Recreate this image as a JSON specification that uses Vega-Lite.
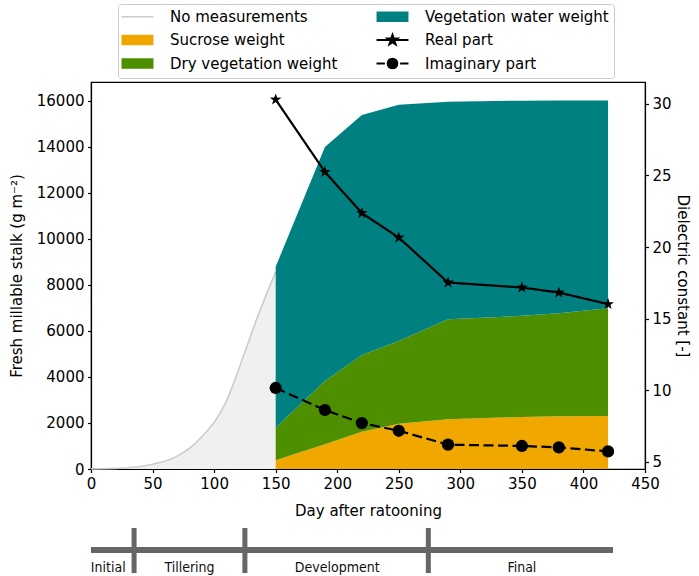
{
  "$schema": "https://vega.github.io/schema/vega-lite/v6.json",
  "padding": {"left": 8, "top": 3, "right": 5, "bottom": 3},
  "datasets": {
    "nomeas": [
      {"day": 0, "weight": 0, "series": "No measurements"},
      {"day": 10, "weight": 8, "series": "No measurements"},
      {"day": 20, "weight": 25, "series": "No measurements"},
      {"day": 30, "weight": 55, "series": "No measurements"},
      {"day": 40, "weight": 110, "series": "No measurements"},
      {"day": 50, "weight": 205, "series": "No measurements"},
      {"day": 60, "weight": 340, "series": "No measurements"},
      {"day": 65, "weight": 430, "series": "No measurements"},
      {"day": 70, "weight": 560, "series": "No measurements"},
      {"day": 75, "weight": 720, "series": "No measurements"},
      {"day": 80, "weight": 900, "series": "No measurements"},
      {"day": 85, "weight": 1130, "series": "No measurements"},
      {"day": 90, "weight": 1400, "series": "No measurements"},
      {"day": 95, "weight": 1690, "series": "No measurements"},
      {"day": 100, "weight": 2015, "series": "No measurements"},
      {"day": 105, "weight": 2450, "series": "No measurements"},
      {"day": 110, "weight": 2950, "series": "No measurements"},
      {"day": 115, "weight": 3600, "series": "No measurements"},
      {"day": 120, "weight": 4330, "series": "No measurements"},
      {"day": 125, "weight": 5080, "series": "No measurements"},
      {"day": 130, "weight": 5830, "series": "No measurements"},
      {"day": 135, "weight": 6580, "series": "No measurements"},
      {"day": 140, "weight": 7250, "series": "No measurements"},
      {"day": 145, "weight": 7920, "series": "No measurements"},
      {"day": 150, "weight": 8550, "series": "No measurements"}
    ],
    "weights": [
      {"day": 150, "series": "Sucrose weight", "weight": 378},
      {"day": 150, "series": "Dry vegetation weight", "weight": 1418},
      {"day": 150, "series": "Vegetation water weight", "weight": 6987},
      {"day": 190, "series": "Sucrose weight", "weight": 1073},
      {"day": 190, "series": "Dry vegetation weight", "weight": 2753},
      {"day": 190, "series": "Vegetation water weight", "weight": 10164},
      {"day": 220, "series": "Sucrose weight", "weight": 1623},
      {"day": 220, "series": "Dry vegetation weight", "weight": 3334},
      {"day": 220, "series": "Vegetation water weight", "weight": 10421},
      {"day": 250, "series": "Sucrose weight", "weight": 1970},
      {"day": 250, "series": "Dry vegetation weight", "weight": 3595},
      {"day": 250, "series": "Vegetation water weight", "weight": 10261},
      {"day": 290, "series": "Sucrose weight", "weight": 2160},
      {"day": 290, "series": "Dry vegetation weight", "weight": 4347},
      {"day": 290, "series": "Vegetation water weight", "weight": 9443},
      {"day": 350, "series": "Sucrose weight", "weight": 2260},
      {"day": 350, "series": "Dry vegetation weight", "weight": 4392},
      {"day": 350, "series": "Vegetation water weight", "weight": 9348},
      {"day": 380, "series": "Sucrose weight", "weight": 2290},
      {"day": 380, "series": "Dry vegetation weight", "weight": 4480},
      {"day": 380, "series": "Vegetation water weight", "weight": 9240},
      {"day": 420, "series": "Sucrose weight", "weight": 2304},
      {"day": 420, "series": "Dry vegetation weight", "weight": 4683},
      {"day": 420, "series": "Vegetation water weight", "weight": 9023}
    ],
    "dielectric": [
      {"day": 150, "series": "Real part", "value": 30.3},
      {"day": 190, "series": "Real part", "value": 25.25},
      {"day": 220, "series": "Real part", "value": 22.37},
      {"day": 250, "series": "Real part", "value": 20.66},
      {"day": 290, "series": "Real part", "value": 17.52},
      {"day": 350, "series": "Real part", "value": 17.17},
      {"day": 380, "series": "Real part", "value": 16.82},
      {"day": 420, "series": "Real part", "value": 16.01},
      {"day": 150, "series": "Imaginary part", "value": 10.15},
      {"day": 190, "series": "Imaginary part", "value": 8.61},
      {"day": 220, "series": "Imaginary part", "value": 7.7},
      {"day": 250, "series": "Imaginary part", "value": 7.16},
      {"day": 290, "series": "Imaginary part", "value": 6.19},
      {"day": 350, "series": "Imaginary part", "value": 6.1},
      {"day": 380, "series": "Imaginary part", "value": 6.0},
      {"day": 420, "series": "Imaginary part", "value": 5.72}
    ],
    "phase_bar": [{"start": 0, "end": 424}],
    "phase_bounds": [{"day": 35}, {"day": 125}, {"day": 274}],
    "phases": [
      {"stage": "Initial", "day": 14},
      {"stage": "Tillering", "day": 80},
      {"stage": "Development", "day": 200},
      {"stage": "Final", "day": 350}
    ]
  },
  "bounds": "flush",
  "spacing": 59,
  "vconcat": [
    {
      "width": 554,
      "height": 387,
      "layer": [
        {
          "layer": [
            {
              "data": {"name": "nomeas"},
              "mark": {"type": "area", "color": "#f0f0f0", "opacity": 1},
              "encoding": {
                "x": {"field": "day", "type": "quantitative", "scale": {"domain": [0, 450], "nice": false},
                      "axis": {"values": [0, 50, 100, 150, 200, 250, 300, 350, 400, 450], "title": "Day after ratooning", "titlePadding": 12, "labelFlush": false, "labelOverlap": false}},
                "y": {"field": "weight", "type": "quantitative", "stack": null, "scale": {"domain": [0, 16810], "nice": false},
                      "axis": {"values": [0, 2000, 4000, 6000, 8000, 10000, 12000, 14000, 16000], "format": "d", "title": "Fresh millable stalk (g m⁻²)", "titlePadding": 12, "labelFlush": false, "labelOverlap": false}}
              }
            },
            {
              "data": {"name": "nomeas"},
              "mark": {"type": "line", "strokeWidth": 1.6},
              "encoding": {
                "x": {"field": "day", "type": "quantitative"},
                "y": {"field": "weight", "type": "quantitative"},
                "color": {
                  "field": "series", "type": "nominal",
                  "scale": {
                    "domain": ["No measurements", "Sucrose weight", "Dry vegetation weight", "Vegetation water weight", "Real part", "Imaginary part"],
                    "range": ["#cccccc", "#f0a800", "#4e8f00", "#008080", "#000000", "#000000"]
                  },
                  "legend": {
                    "title": null,
                    "orient": "none",
                    "legendX": 27,
                    "legendY": -78,
                    "columns": 2,
                    "encode": {
                      "symbols": {
                        "update": {
                          "shape": {"signal": "datum.value == 'No measurements' ? 'M-1.68,0H1.68' : datum.value == 'Real part' ? 'M-1.68,0H1.68M0,-0.52L0.122,-0.168L0.495,-0.161L0.198,0.064L0.306,0.421L0,0.208L-0.306,0.421L-0.198,0.064L-0.495,-0.161L-0.122,-0.168Z' : datum.value == 'Imaginary part' ? 'M-1.68,0H-0.8M0.8,0H1.68M0.5,0A0.5,0.5 0 1 1 -0.5,0A0.5,0.5 0 1 1 0.5,0Z' : 'M-1.68,-0.55H1.68V0.55H-1.68Z'"},
                          "fill": {"signal": "scale('color', datum.value)"},
                          "stroke": {"signal": "scale('color', datum.value)"},
                          "strokeWidth": {"signal": "datum.value == 'No measurements' ? 1.6 : (datum.value == 'Real part' || datum.value == 'Imaginary part') ? 2.2 : 0"},
                          "opacity": {"value": 1},
                          "fillOpacity": {"value": 1}
                        }
                      }
                    }
                  }
                }
              }
            },
            {
              "data": {"name": "weights"},
              "transform": [
                {"stack": "weight", "groupby": ["day"], "sort": [{"field": "weight", "order": "ascending"}], "as": ["weight_lo", "weight_hi"]}
              ],
              "mark": {"type": "area", "opacity": 1},
              "encoding": {
                "x": {"field": "day", "type": "quantitative"},
                "y": {"field": "weight_hi", "type": "quantitative"},
                "y2": {"field": "weight_lo"},
                "color": {"field": "series", "type": "nominal"}
              }
            }
          ]
        },
        {
          "layer": [
            {
              "data": {"name": "dielectric"},
              "mark": {"type": "line", "strokeWidth": 2.2},
              "encoding": {
                "x": {"field": "day", "type": "quantitative"},
                "y": {"field": "value", "type": "quantitative", "scale": {"domain": [4.49, 31.53], "nice": false, "zero": false},
                      "axis": {"orient": "right", "values": [5, 10, 15, 20, 25, 30], "title": "Dielectric constant [-]", "titlePadding": 3, "labelFlush": false, "labelOverlap": false}},
                "color": {"field": "series", "type": "nominal"},
                "strokeDash": {"field": "series", "type": "nominal", "scale": {"domain": ["Real part", "Imaginary part"], "range": [[1, 0], [10, 4.5]]}, "legend": null}
              }
            },
            {
              "data": {"name": "dielectric"},
              "mark": {"type": "point", "filled": true, "opacity": 1, "size": 150},
              "encoding": {
                "x": {"field": "day", "type": "quantitative"},
                "y": {"field": "value", "type": "quantitative"},
                "color": {"field": "series", "type": "nominal"},
                "shape": {"field": "series", "type": "nominal", "scale": {"domain": ["Real part", "Imaginary part"], "range": ["M0,-1L0.235,-0.324L0.951,-0.309L0.38,0.124L0.588,0.809L0,0.4L-0.588,0.809L-0.38,0.124L-0.951,-0.309L-0.235,-0.324Z", "circle"]}, "legend": null}
              }
            }
          ]
        }
      ],
      "resolve": {"scale": {"y": "independent"}}
    },
    {
      "width": 554,
      "height": 46,
      "view": {"stroke": null},
      "layer": [
        {
          "data": {"name": "phase_bar"},
          "mark": {"type": "rule", "color": "#666666", "strokeWidth": 6},
          "encoding": {
            "x": {"field": "start", "type": "quantitative", "scale": {"domain": [0, 450], "nice": false}, "axis": null},
            "x2": {"field": "end"},
            "y": {"datum": 0.52, "type": "quantitative", "scale": {"domain": [0, 1], "nice": false}, "axis": null}
          }
        },
        {
          "data": {"name": "phase_bounds"},
          "mark": {"type": "rule", "color": "#666666", "strokeWidth": 5},
          "encoding": {
            "x": {"field": "day", "type": "quantitative"},
            "y": {"datum": 0.02, "type": "quantitative"},
            "y2": {"datum": 1}
          }
        },
        {
          "data": {"name": "phases"},
          "mark": {"type": "text", "color": "#111111", "fontSize": 14, "font": "DejaVu Sans Condensed, Liberation Sans Narrow, DejaVu Sans", "baseline": "middle"},
          "encoding": {
            "x": {"field": "day", "type": "quantitative"},
            "y": {"datum": 0.13, "type": "quantitative"},
            "text": {"field": "stage"}
          }
        }
      ]
    }
  ],
  "config": {
    "font": "DejaVu Sans",
    "view": {"stroke": "black", "strokeWidth": 1.2},
    "axis": {
      "domainColor": "black", "tickColor": "black", "labelColor": "black", "titleColor": "black",
      "labelFontSize": 15, "titleFontSize": 15, "titleFontWeight": "normal", "labelFont": "DejaVu Sans", "titleFont": "DejaVu Sans",
      "grid": false, "tickSize": 3.5, "labelPadding": 3.5, "domainWidth": 1.2, "tickWidth": 1.2
    },
    "legend": {
      "labelFontSize": 15, "labelFont": "DejaVu Sans", "labelColor": "black",
      "strokeColor": "#cccccc", "fillColor": "white", "cornerRadius": 3, "padding": 5,
      "rowPadding": 5.5, "columnPadding": 34, "symbolSize": 361, "symbolOffset": 7, "labelOffset": 25, "labelLimit": 300
    }
  }
}
